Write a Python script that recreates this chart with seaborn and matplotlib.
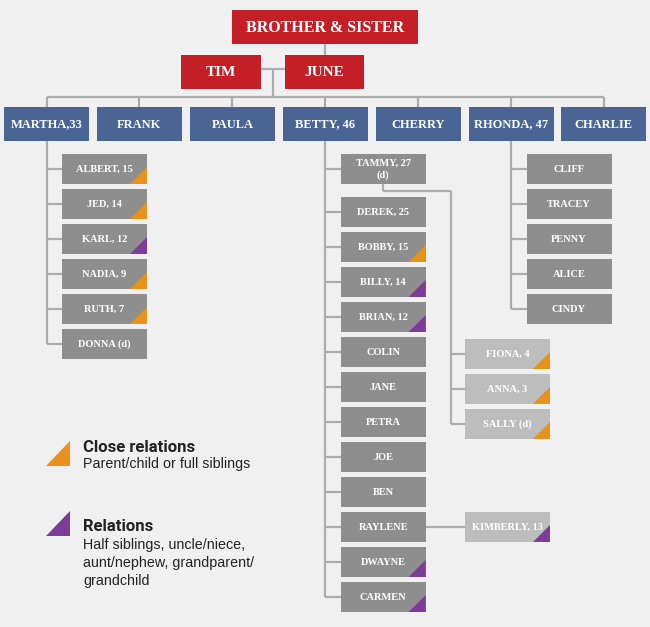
import matplotlib
matplotlib.use("Agg")
import matplotlib.pyplot as plt
import seaborn as sns
from matplotlib.patches import Rectangle, Polygon

# ---------------- data ----------------
TOP_LABEL = "BROTHER & SISTER"
parents = ["TIM", "JUNE"]
siblings = ["MARTHA,33", "FRANK", "PAULA", "BETTY, 46", "CHERRY", "RHONDA, 47", "CHARLIE"]

martha_kids = ["ALBERT, 15", "JED, 14", "KARL, 12", "NADIA, 9", "RUTH, 7", "DONNA (d)"]
martha_rel = ["close", "close", "half", "close", "close", None]

betty_kids = ["TAMMY, 27\n(d)", "DEREK, 25", "BOBBY, 15", "BILLY, 14", "BRIAN, 12", "COLIN",
              "JANE", "PETRA", "JOE", "BEN", "RAYLENE", "DWAYNE", "CARMEN"]
betty_rel = [None, None, "close", "half", "half", None, None, None, None, None, None, "half", "half"]

tammy_kids = ["FIONA, 4", "ANNA, 3", "SALLY (d)"]
tammy_rel = ["close", "close", "close"]

raylene_kids = ["KIMBERLY, 13"]
raylene_rel = ["half"]

rhonda_kids = ["CLIFF", "TRACEY", "PENNY", "ALICE", "CINDY"]
rhonda_rel = [None, None, None, None, None]

legend_heads = ["Close relations", "Relations"]
legend_bodies = [["Parent/child or full siblings"],
                 ["Half siblings, uncle/niece,", "aunt/nephew, grandparent/", "grandchild"]]
legend_rel = ["close", "half"]

# ---------------- style ----------------
BG = "#f0f0f0"
RED = "#c41e27"
BLUE = "#4a6593"
DARK = "#8e8e8e"
LIGHT = "#bdbdbd"
LINE = "#acacac"
REL_COL = {"close": "#e8911b", "half": "#7c3c98"}
BOX_FONT = ["Liberation Serif", "DejaVu Serif"]

sns.set_theme(style="white", rc={"figure.facecolor": BG, "axes.facecolor": BG})

fig = plt.figure(figsize=(6.5, 6.27), dpi=100)
ax = fig.add_axes([0, 0, 1, 1])
ax.set_xlim(0, 650)
ax.set_ylim(627, 0)
ax.axis("off")


def line(xs, ys):
    ax.plot(xs, ys, color=LINE, lw=1.6, solid_capstyle="butt", zorder=1)


def box(x, y, w, h, label, color, size, rel=None, tri=17):
    ax.add_patch(Rectangle((x, y), w, h, facecolor=color, edgecolor="none", zorder=2))
    if rel:
        ax.add_patch(Polygon([(x + w, y + h), (x + w - tri, y + h), (x + w, y + h - tri)],
                             closed=True, facecolor=REL_COL[rel], edgecolor="none", zorder=3))
    ax.text(x + w / 2, y + h / 2 + 0.5, label, color="white", ha="center", va="center",
            fontsize=size, fontweight="bold", family=BOX_FONT, linespacing=1.3, zorder=4)


# top
box(232, 10, 186, 34, TOP_LABEL, RED, 11.5)
line([325, 325], [44, 55])
box(181, 55, 80, 34, parents[0], RED, 11)
box(285, 55, 79, 34, parents[1], RED, 11)
line([261, 285], [69, 69])
line([273, 273], [69, 97])

# siblings row
SIB_X0, SIB_PITCH, SIB_W, SIB_Y, SIB_H = 4, 92.9, 85, 107, 34
centers = [SIB_X0 + SIB_W / 2 + i * SIB_PITCH for i in range(len(siblings))]
line([centers[0], centers[-1]], [97, 97])
for i, name in enumerate(siblings):
    line([centers[i], centers[i]], [97, SIB_Y])
    box(SIB_X0 + i * SIB_PITCH, SIB_Y, SIB_W, SIB_H, name, BLUE, 9)

KID_W, KID_H, PITCH = 85, 30, 35


def column(stem_x, names, rels, tops, color=DARK, box_x=None, stem_top=None):
    bx = stem_x + 15.5 if box_x is None else box_x
    mids = [t + KID_H / 2 for t in tops]
    if stem_top is not None:
        line([stem_x, stem_x], [stem_top, mids[-1]])
    for name, rel, t, m in zip(names, rels, tops, mids):
        line([stem_x, bx], [m, m])
        box(bx, t, KID_W, KID_H, name, color, 7.5, rel)
    return bx, mids


# Martha
cx = centers[0]
column(cx, martha_kids, martha_rel, [154 + i * PITCH for i in range(len(martha_kids))],
       stem_top=SIB_Y + SIB_H)

# Betty
cx = centers[3]
betty_tops = [154] + [197 + i * PITCH for i in range(len(betty_kids) - 1)]
bx, bmids = column(cx, betty_kids, betty_rel, betty_tops, stem_top=SIB_Y + SIB_H)

# Tammy's kids
tx = bx + KID_W / 2
tammy_tops = [339 + i * PITCH for i in range(len(tammy_kids))]
tmids = [t + KID_H / 2 for t in tammy_tops]
line([tx, tx], [betty_tops[0] + KID_H, 191])
line([tx, 451], [191, 191])
line([451, 451], [191, tmids[-1]])
column(451, tammy_kids, tammy_rel, tammy_tops, color=LIGHT, box_x=465)

# Raylene's kid
ri = betty_kids.index("RAYLENE")
column(bx + KID_W, raylene_kids, raylene_rel, [betty_tops[ri]], color=LIGHT, box_x=465)

# Rhonda
cx = centers[5]
column(cx, rhonda_kids, rhonda_rel, [154 + i * PITCH for i in range(len(rhonda_kids))],
       stem_top=SIB_Y + SIB_H)

# legend
legend_tops = [441, 511]
head_base = [452, 531]
body_base = [468, 549]
for head, body, rel, top, hb, bb in zip(legend_heads, legend_bodies, legend_rel,
                                        legend_tops, head_base, body_base):
    ax.add_patch(Polygon([(46, top + 25), (70, top + 25), (70, top)], closed=True,
                         facecolor=REL_COL[rel], edgecolor="none"))
    ax.text(83, hb, head, ha="left", va="baseline", fontsize=12, fontweight="bold",
            color="#222222", family=["Roboto", "DejaVu Sans"])
    for j, txt in enumerate(body):
        ax.text(83, bb + j * 18, txt, ha="left", va="baseline", fontsize=10.3,
                color="#222222", family=["Liberation Sans", "DejaVu Sans"])

fig.savefig("out.png", dpi=100, facecolor=BG)
